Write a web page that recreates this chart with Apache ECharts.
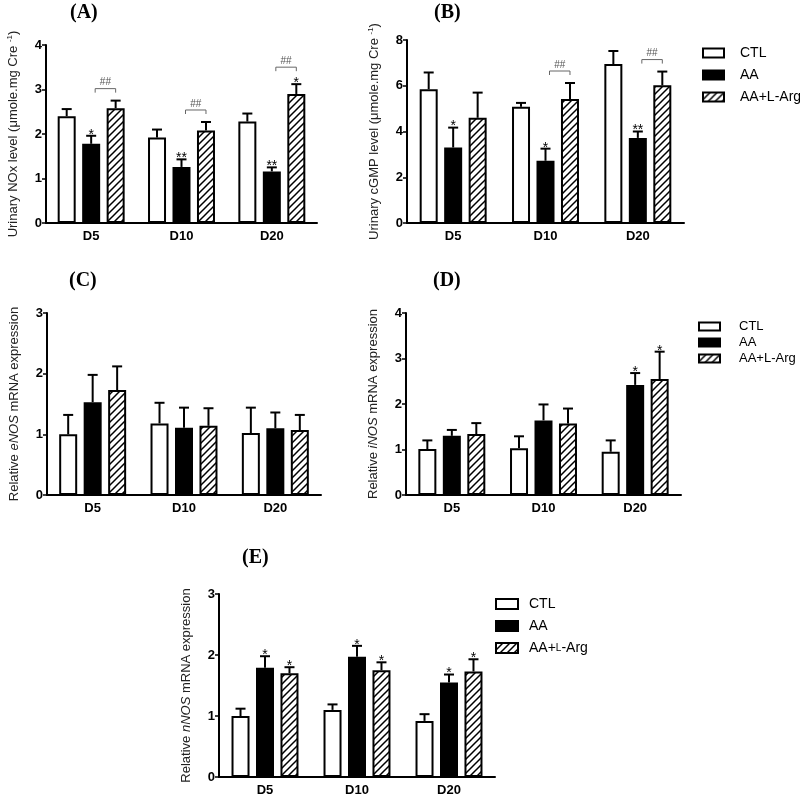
<!DOCTYPE html>
<html><head><meta charset="utf-8">
<script src="https://cdn.jsdelivr.net/npm/echarts@6/dist/echarts.min.js"></script>
<style>html,body{margin:0;padding:0;background:#fff}#c{width:800px;height:799px}</style>
</head><body><div id="c"></div>
<script>
// ---------- data ----------
const categories = ['D5', 'D10', 'D20'];
const groups = ['CTL', 'AA', 'AA+L-Arg'];

// (A) Urinary NOx
const aCTL = [2.40, 1.92, 2.28];
const aCTLErr = [0.16, 0.18, 0.18];
const aAA = [1.78, 1.26, 1.16];
const aAAErr = [0.18, 0.17, 0.09];
const aArg = [2.58, 2.08, 2.90];
const aArgErr = [0.17, 0.19, 0.22];
const aStarAA = ['*', '**', '**'];
const aStarArg = ['', '', '*'];
const aHash = ['##', '##', '##'];

// (B) Urinary cGMP
const bCTL = [5.85, 5.08, 6.95];
const bCTLErr = [0.73, 0.17, 0.57];
const bAA = [3.30, 2.72, 3.72];
const bAAErr = [0.87, 0.53, 0.28];
const bArg = [4.60, 5.42, 6.02];
const bArgErr = [1.10, 0.70, 0.60];
const bStarAA = ['*', '*', '**'];
const bStarArg = ['', '', ''];
const bHash = ['', '##', '##'];

// (C) eNOS
const cCTL = [1.00, 1.18, 1.02];
const cCTLErr = [0.32, 0.34, 0.42];
const cAA = [1.53, 1.11, 1.10];
const cAAErr = [0.45, 0.33, 0.26];
const cArg = [1.73, 1.14, 1.07];
const cArgErr = [0.39, 0.29, 0.25];
const cStarAA = ['', '', ''];
const cStarArg = ['', '', ''];
const cHash = ['', '', ''];

// (D) iNOS
const dCTL = [1.01, 1.03, 0.95];
const dCTLErr = [0.19, 0.26, 0.25];
const dAA = [1.30, 1.64, 2.42];
const dAAErr = [0.13, 0.35, 0.26];
const dArg = [1.34, 1.57, 2.55];
const dArgErr = [0.24, 0.33, 0.60];
const dStarAA = ['', '', '*'];
const dStarArg = ['', '', '*'];
const dHash = ['', '', ''];

// (E) nNOS
const eCTL = [1.00, 1.10, 0.92];
const eCTLErr = [0.12, 0.09, 0.11];
const eAA = [1.79, 1.97, 1.55];
const eAAErr = [0.19, 0.18, 0.13];
const eArg = [1.70, 1.75, 1.73];
const eArgErr = [0.10, 0.13, 0.20];
const eStarAA = ['*', '*', '*'];
const eStarArg = ['*', '*', '*'];
const eHash = ['', '', ''];

const yMax = [4, 8, 3, 4, 3];
const yInterval = [1, 2, 1, 1, 1];
const panelTitles = ['(A)', '(B)', '(C)', '(D)', '(E)'];
const yNames = [
  'Urinary NOx level (μmole.mg Cre {sup|-1})',
  'Urinary cGMP level (μmole.mg Cre {sup|-1})',
  'Relative {it|eNOS} mRNA expression',
  'Relative {it|iNOS} mRNA expression',
  'Relative {it|nNOS} mRNA expression'
];

// ---------- layout ----------
const FONT = 'Liberation Sans, Arial, sans-serif';
const grids = [
  { left: 46, top: 45, width: 271, height: 178 },
  { left: 407, top: 40, width: 277, height: 183 },
  { left: 47, top: 313, width: 274, height: 182 },
  { left: 406, top: 313, width: 275, height: 182 },
  { left: 219, top: 594, width: 276, height: 183 }
];
const titlePos = [[84, 3], [448, 3], [83, 271], [447, 271], [256, 548]];
const BAR_W = 18, BAR_GAP = 0.36;
const STEP = BAR_W * (1 + BAR_GAP);

// hatch pattern
const pc = document.createElement('canvas');
pc.width = 7; pc.height = 7;
const px = pc.getContext('2d');
px.fillStyle = '#fff'; px.fillRect(0, 0, 7, 7);
px.strokeStyle = '#000'; px.lineWidth = 1.5;
px.beginPath();
px.moveTo(-1, 8); px.lineTo(8, -1);
px.moveTo(-1, 1); px.lineTo(1, -1);
px.moveTo(6, 8); px.lineTo(8, 6);
px.stroke();
const hatch = { image: pc, repeat: 'repeat' };

const panels = [
  { v: [aCTL, aAA, aArg], e: [aCTLErr, aAAErr, aArgErr], sAA: aStarAA, sArg: aStarArg, h: aHash },
  { v: [bCTL, bAA, bArg], e: [bCTLErr, bAAErr, bArgErr], sAA: bStarAA, sArg: bStarArg, h: bHash },
  { v: [cCTL, cAA, cArg], e: [cCTLErr, cAAErr, cArgErr], sAA: cStarAA, sArg: cStarArg, h: cHash },
  { v: [dCTL, dAA, dArg], e: [dCTLErr, dAAErr, dArgErr], sAA: dStarAA, sArg: dStarArg, h: dHash },
  { v: [eCTL, eAA, eArg], e: [eCTLErr, eAAErr, eArgErr], sAA: eStarAA, sArg: eStarArg, h: eHash }
];

const barStyles = [
  { color: '#fff', borderColor: '#000', borderWidth: 2 },
  { color: '#000', borderColor: '#000', borderWidth: 2 },
  { color: hatch, borderColor: '#000', borderWidth: 2 }
];

const xAxis = [], yAxis = [], series = [], graphic = [];
panels.forEach((p, gi) => {
  xAxis.push({
    type: 'category', gridIndex: gi, data: categories,
    axisLine: { lineStyle: { color: '#000', width: 2 } },
    axisTick: { alignWithLabel: true, length: 4, lineStyle: { color: '#000', width: 1.5 } },
    axisLabel: { color: '#000', fontWeight: 'bold', fontSize: 13, fontFamily: FONT, margin: 7 },
    splitLine: { show: false }
  });
  yAxis.push({
    type: 'value', gridIndex: gi, min: 0, max: yMax[gi], interval: yInterval[gi],
    name: yNames[gi], nameLocation: 'middle', nameGap: 26, nameRotate: 90,
    nameTextStyle: {
      color: '#222', fontSize: 13, fontFamily: FONT,
      rich: {
        sup: { fontSize: 8, fontFamily: FONT, color: '#222', verticalAlign: 'top', lineHeight: 14, padding: [0, 0, 6, 0] },
        it: { fontStyle: 'italic', fontSize: 13, fontFamily: FONT, color: '#222' }
      }
    },
    axisLine: { show: true, lineStyle: { color: '#000', width: 2 } },
    axisTick: { show: true, length: 4, lineStyle: { color: '#000', width: 1.5 } },
    axisLabel: { color: '#000', fontWeight: 'bold', fontSize: 13, fontFamily: FONT, margin: 4 },
    splitLine: { show: false }
  });
  for (let s = 0; s < 3; s++) {
    series.push({
      type: 'bar', name: groups[s], xAxisIndex: gi, yAxisIndex: gi,
      data: p.v[s], barWidth: BAR_W, barGap: (BAR_GAP * 100) + '%',
      itemStyle: barStyles[s], emphasis: { disabled: true }, silent: true, z: 2
    });
  }
  for (let s = 0; s < 3; s++) {
    const offset = (s - 1) * STEP;
    const vals = p.v[s], errs = p.e[s];
    const stars = s === 1 ? p.sAA : (s === 2 ? p.sArg : null);
    series.push({
      type: 'custom', xAxisIndex: gi, yAxisIndex: gi, silent: true, z: 3,
      data: vals.map((v, i) => [i, v, v + errs[i]]),
      encode: { x: 0, y: [1, 2] },
      renderItem: (params, api) => {
        const ci = api.value(0), mean = api.value(1), top = api.value(2);
        const b = api.coord([ci, mean]);
        const t = api.coord([ci, top]);
        const x = b[0] + offset;
        const ch = [
          { type: 'line', shape: { x1: x, y1: b[1], x2: x, y2: t[1] }, style: { stroke: '#000', lineWidth: 2 } },
          { type: 'line', shape: { x1: x - 5, y1: t[1], x2: x + 5, y2: t[1] }, style: { stroke: '#000', lineWidth: 2 } }
        ];
        const star = stars ? stars[params.dataIndex] : '';
        if (star) {
          ch.push({ type: 'text', x: x, y: t[1] - 1, style: { text: star, fill: '#000', font: '14px ' + FONT, align: 'center', verticalAlign: 'middle' } });
        }
        if (s === 2 && p.h[params.dataIndex]) {
          const ly = t[1] - (star ? 17 : 12);
          const x1 = x - STEP + 4, x2 = x;
          ch.push({ type: 'polyline', shape: { points: [[x1, ly + 4], [x1, ly], [x2, ly], [x2, ly + 4]] }, style: { stroke: '#666', lineWidth: 1, fill: null } });
          ch.push({ type: 'text', x: (x1 + x2) / 2, y: ly - 1, style: { text: p.h[params.dataIndex], fill: '#555', font: '10px ' + FONT, align: 'center', verticalAlign: 'bottom' } });
        }
        return { type: 'group', children: ch };
      }
    });
  }
  graphic.push({
    type: 'text', left: titlePos[gi][0] - 14, top: titlePos[gi][1],
    style: { text: panelTitles[gi], fill: '#000', font: 'bold 20px "Liberation Serif", "Times New Roman", serif' }
  });
});

const legendBase = {
  data: groups, orient: 'vertical', icon: 'rect', selectedMode: false, padding: 0,
  itemWidth: 21, itemHeight: 9,
  textStyle: { color: '#000', fontSize: 14, fontFamily: FONT, padding: [0, 0, 0, 11] }
};
const legend = [
  Object.assign({}, legendBase, { left: 702, top: 46, itemGap: 8 }),
  Object.assign({}, legendBase, { left: 698, top: 320, itemGap: 3, itemHeight: 8, textStyle: Object.assign({}, legendBase.textStyle, { fontSize: 13, padding: [0, 0, 0, 14] }) }),
  Object.assign({}, legendBase, { left: 495, top: 597, itemGap: 8, itemWidth: 22, itemHeight: 10,
    formatter: n => n === 'AA+L-Arg' ? 'AA+{s|L}-Arg' : n,
    textStyle: Object.assign({}, legendBase.textStyle, { padding: [0, 0, 0, 6], rich: { s: { fontSize: 10, fontFamily: FONT, color: '#000' } } }) })
];

const chart = echarts.init(document.getElementById('c'), null, { renderer: 'canvas' });
chart.setOption({
  backgroundColor: '#fff',
  animation: false,
  textStyle: { fontFamily: FONT },
  grid: grids.map(g => Object.assign({ containLabel: false }, g)),
  xAxis, yAxis, series, legend, graphic
});
</script></body></html>
